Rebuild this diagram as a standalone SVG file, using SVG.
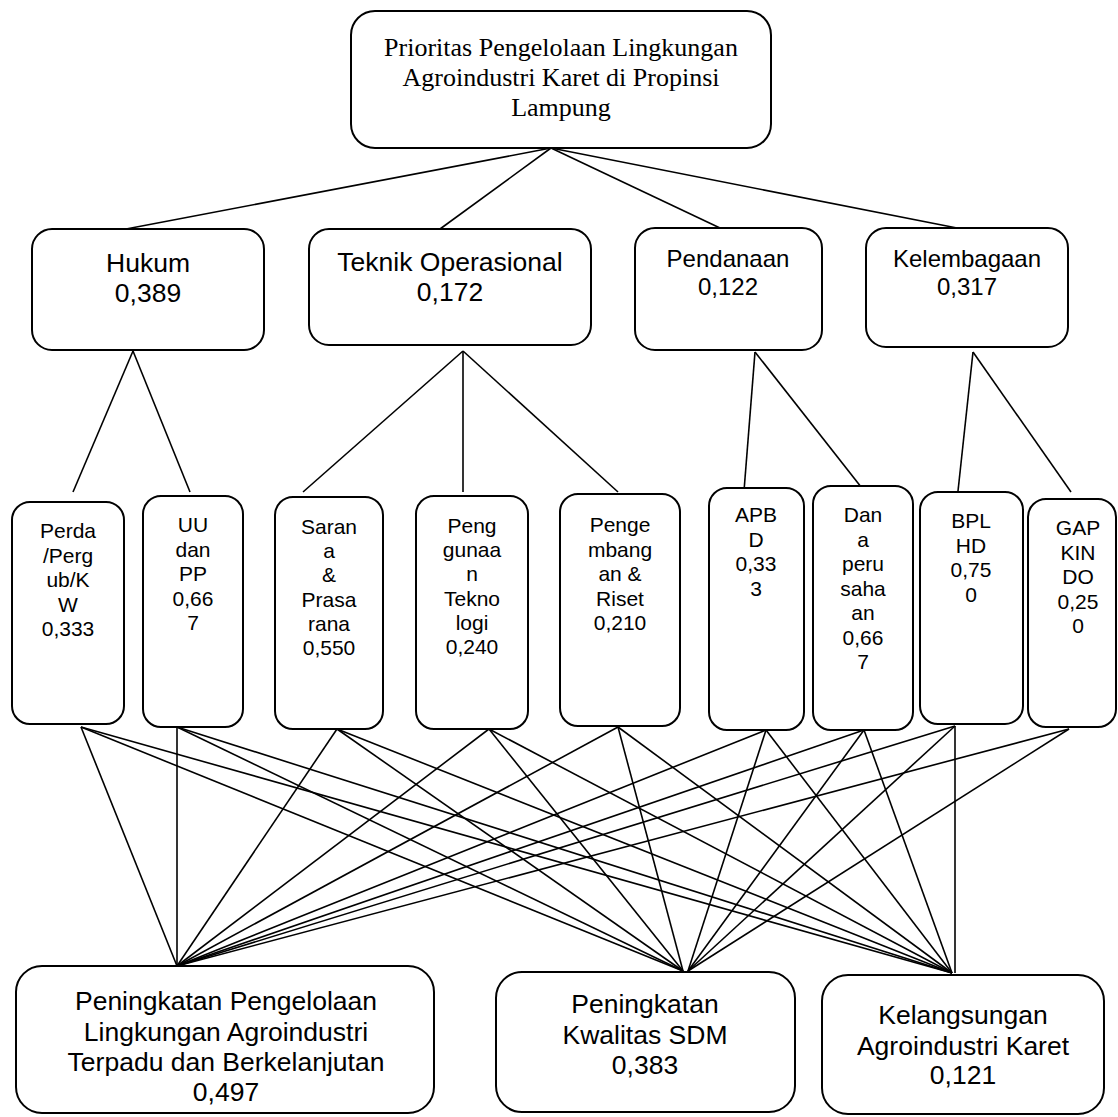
<svg xmlns="http://www.w3.org/2000/svg" width="1118" height="1117" viewBox="0 0 1118 1117">
<style>
.box{fill:#fff;stroke:#000;stroke-width:2}
.ln{stroke:#000;stroke-width:1.6;fill:none}
.t{font-family:"Liberation Sans",Arial,sans-serif;fill:#000;text-anchor:middle}
.s{font-size:21px}
.m{font-size:24px}
.l{font-size:26.5px}
.top{font-family:"Liberation Serif","Times New Roman",serif;font-size:26px;fill:#000;text-anchor:middle}
</style>
<rect width="1118" height="1117" fill="#fff"/>
<g id="connectors">
<line class="ln" x1="551" y1="148" x2="126" y2="229"/>
<line class="ln" x1="551" y1="148" x2="440" y2="229"/>
<line class="ln" x1="551" y1="148" x2="720" y2="228"/>
<line class="ln" x1="551" y1="148" x2="957" y2="228"/>
<line class="ln" x1="133" y1="351" x2="73" y2="492"/>
<line class="ln" x1="133" y1="351" x2="190" y2="492"/>
<line class="ln" x1="463" y1="351" x2="303" y2="492"/>
<line class="ln" x1="463" y1="351" x2="463" y2="492"/>
<line class="ln" x1="463" y1="351" x2="618" y2="492"/>
<line class="ln" x1="755" y1="352" x2="744" y2="491"/>
<line class="ln" x1="755" y1="352" x2="865" y2="492"/>
<line class="ln" x1="973" y1="352" x2="958" y2="491"/>
<line class="ln" x1="973" y1="352" x2="1071" y2="492"/>
<!-- level 3 to bottom -->
<line class="ln" x1="81" y1="727" x2="177" y2="966"/>
<line class="ln" x1="81" y1="727" x2="683" y2="971"/>
<line class="ln" x1="81" y1="727" x2="952" y2="973"/>
<line class="ln" x1="177" y1="727" x2="177" y2="966"/>
<line class="ln" x1="177" y1="727" x2="683" y2="971"/>
<line class="ln" x1="177" y1="727" x2="952" y2="973"/>
<line class="ln" x1="337" y1="729" x2="177" y2="966"/>
<line class="ln" x1="337" y1="729" x2="683" y2="971"/>
<line class="ln" x1="337" y1="729" x2="952" y2="973"/>
<line class="ln" x1="489" y1="729" x2="177" y2="966"/>
<line class="ln" x1="489" y1="729" x2="683" y2="971"/>
<line class="ln" x1="489" y1="729" x2="952" y2="973"/>
<line class="ln" x1="618" y1="727" x2="177" y2="966"/>
<line class="ln" x1="618" y1="727" x2="683" y2="971"/>
<line class="ln" x1="618" y1="727" x2="952" y2="973"/>
<line class="ln" x1="766" y1="730" x2="177" y2="966"/>
<line class="ln" x1="766" y1="730" x2="688" y2="971"/>
<line class="ln" x1="766" y1="730" x2="952" y2="973"/>
<line class="ln" x1="864" y1="730" x2="177" y2="966"/>
<line class="ln" x1="864" y1="730" x2="688" y2="971"/>
<line class="ln" x1="864" y1="730" x2="952" y2="973"/>
<line class="ln" x1="955" y1="726" x2="177" y2="966"/>
<line class="ln" x1="955" y1="726" x2="688" y2="971"/>
<line class="ln" x1="955" y1="726" x2="955" y2="973"/>
<line class="ln" x1="1069" y1="729" x2="177" y2="966"/>
<line class="ln" x1="1069" y1="729" x2="688" y2="971"/>
</g>
<g id="root">
<rect class="box" x="351" y="11" width="420" height="137" rx="24"/>
<text class="top" x="561" y="56">Prioritas Pengelolaan Lingkungan</text>
<text class="top" x="561" y="86">Agroindustri Karet di Propinsi</text>
<text class="top" x="561" y="116">Lampung</text>
</g>
<g id="hukum">
<rect class="box" x="32" y="229" width="232" height="121" rx="20"/>
<text class="t l" x="148" y="272">Hukum</text>
<text class="t l" x="148" y="302">0,389</text>
</g>
<g id="teknik">
<rect class="box" x="309" y="229" width="282" height="116" rx="20"/>
<text class="t l" x="450" y="271">Teknik Operasional</text>
<text class="t l" x="450" y="301">0,172</text>
</g>
<g id="pendanaan">
<rect class="box" x="635" y="228" width="187" height="122" rx="20"/>
<text class="t m" x="728" y="267">Pendanaan</text>
<text class="t m" x="728" y="295">0,122</text>
</g>
<g id="kelembagaan">
<rect class="box" x="866" y="228" width="202" height="119" rx="20"/>
<text class="t m" x="967" y="267">Kelembagaan</text>
<text class="t m" x="967" y="295">0,317</text>
</g>
<g id="perda">
<rect class="box" x="12" y="502" width="112" height="222" rx="18"/>
<text class="t s" x="68" y="538">Perda</text>
<text class="t s" x="68" y="562.5">/Perg</text>
<text class="t s" x="68" y="587">ub/K</text>
<text class="t s" x="68" y="611.5">W</text>
<text class="t s" x="68" y="636">0,333</text>
</g>
<g id="uu">
<rect class="box" x="143" y="496" width="100" height="231" rx="18"/>
<text class="t s" x="193" y="532">UU</text>
<text class="t s" x="193" y="556.5">dan</text>
<text class="t s" x="193" y="581">PP</text>
<text class="t s" x="193" y="605.5">0,66</text>
<text class="t s" x="193" y="630">7</text>
</g>
<g id="sarana">
<rect class="box" x="275" y="497" width="108" height="232" rx="18"/>
<text class="t s" x="329" y="534">Saran</text>
<text class="t s" x="329" y="558.2">a</text>
<text class="t s" x="329" y="582.4">&amp;</text>
<text class="t s" x="329" y="606.6">Prasa</text>
<text class="t s" x="329" y="630.8">rana</text>
<text class="t s" x="329" y="655">0,550</text>
</g>
<g id="penggunaan">
<rect class="box" x="416" y="496" width="112" height="233" rx="18"/>
<text class="t s" x="472" y="533">Peng</text>
<text class="t s" x="472" y="557.2">gunaa</text>
<text class="t s" x="472" y="581.4">n</text>
<text class="t s" x="472" y="605.6">Tekno</text>
<text class="t s" x="472" y="629.8">logi</text>
<text class="t s" x="472" y="654">0,240</text>
</g>
<g id="pengembangan">
<rect class="box" x="560" y="494" width="120" height="232" rx="18"/>
<text class="t s" x="620" y="532">Penge</text>
<text class="t s" x="620" y="556.5">mbang</text>
<text class="t s" x="620" y="581">an &amp;</text>
<text class="t s" x="620" y="605.5">Riset</text>
<text class="t s" x="620" y="630">0,210</text>
</g>
<g id="apbd">
<rect class="box" x="709" y="488" width="95" height="242" rx="18"/>
<text class="t s" x="756" y="522">APB</text>
<text class="t s" x="756" y="546.5">D</text>
<text class="t s" x="756" y="571">0,33</text>
<text class="t s" x="756" y="595.5">3</text>
</g>
<g id="dana">
<rect class="box" x="813" y="486" width="100" height="244" rx="18"/>
<text class="t s" x="863" y="522">Dan</text>
<text class="t s" x="863" y="546.5">a</text>
<text class="t s" x="863" y="571">peru</text>
<text class="t s" x="863" y="595.5">saha</text>
<text class="t s" x="863" y="620">an</text>
<text class="t s" x="863" y="644.5">0,66</text>
<text class="t s" x="863" y="669">7</text>
</g>
<g id="bplhd">
<rect class="box" x="920" y="492" width="103" height="232" rx="18"/>
<text class="t s" x="971" y="528">BPL</text>
<text class="t s" x="971" y="552.5">HD</text>
<text class="t s" x="971" y="577">0,75</text>
<text class="t s" x="971" y="601.5">0</text>
</g>
<g id="gapkindo">
<rect class="box" x="1028" y="499" width="88" height="228" rx="18"/>
<text class="t s" x="1078" y="535">GAP</text>
<text class="t s" x="1078" y="559.5">KIN</text>
<text class="t s" x="1078" y="584">DO</text>
<text class="t s" x="1078" y="608.5">0,25</text>
<text class="t s" x="1078" y="633">0</text>
</g>
<g id="pengelolaan">
<rect class="box" x="16" y="966" width="418" height="147" rx="26"/>
<text class="t l" x="226" y="1010">Peningkatan Pengelolaan</text>
<text class="t l" x="226" y="1041">Lingkungan Agroindustri</text>
<text class="t l" x="226" y="1071">Terpadu dan Berkelanjutan</text>
<text class="t l" x="226" y="1101">0,497</text>
</g>
<g id="sdm">
<rect class="box" x="496" y="972" width="299" height="140" rx="26"/>
<text class="t l" x="645" y="1013">Peningkatan</text>
<text class="t l" x="645" y="1044">Kwalitas SDM</text>
<text class="t l" x="645" y="1074">0,383</text>
</g>
<g id="kelangsungan">
<rect class="box" x="822" y="975" width="282" height="139" rx="26"/>
<text class="t l" x="963" y="1024">Kelangsungan</text>
<text class="t l" x="963" y="1055">Agroindustri Karet</text>
<text class="t l" x="963" y="1084">0,121</text>
</g>
</svg>
